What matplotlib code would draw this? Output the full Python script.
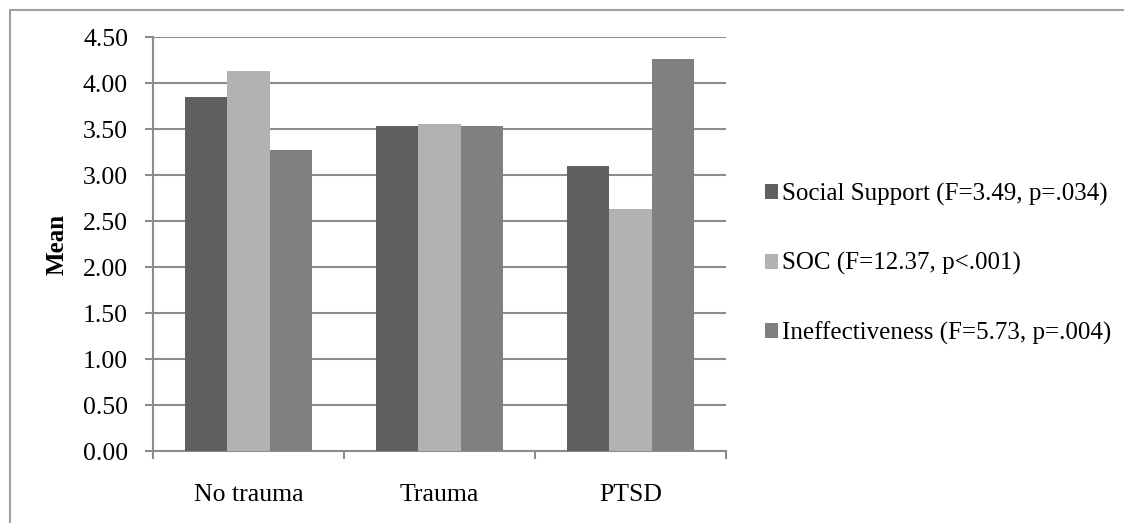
from matplotlib import pyplot as plt
from matplotlib.patches import Rectangle
import numpy as np

plt.rcParams['font.family'] = ['Liberation Serif', 'DejaVu Serif']

groups = ["No trauma", "Trauma", "PTSD"]
series = ["Social Support (F=3.49, p=.034)",
          "SOC (F=12.37, p<.001)",
          "Ineffectiveness (F=5.73, p=.004)"]
social_support = [3.85, 3.53, 3.10]
soc = [4.13, 3.55, 2.63]
ineffectiveness = [3.27, 3.53, 4.26]
colors = ["#606060", "#b2b2b2", "#808080"]

fig = plt.figure(figsize=(11.24, 5.23), dpi=100)
ax = fig.add_axes([153/1124, 1-451/523, (726-153)/1124, (451-37)/523])

# outer frame around the chart
fig.patches.append(Rectangle((10/1124, -0.05), 1.2, 1-10/523+0.05,
                             transform=fig.transFigure, fill=False,
                             edgecolor="#a0a0a0", linewidth=1.5))

x = np.arange(len(groups))
w = 1/1.5/3
for i, (vals, lab) in enumerate(zip([social_support, soc, ineffectiveness], series)):
    ax.bar(x + (i-1)*w, vals, width=w, color=colors[i], label=lab, zorder=3)

ax.set_xlim(-0.5, 2.5)
ax.set_ylim(0, 4.5)
ax.set_yticks(np.arange(0, 4.51, 0.5))
ax.set_yticklabels(["%.2f" % v for v in np.arange(0, 4.51, 0.5)])
ax.yaxis.grid(True, color="#8c8c8c", linewidth=1.5, zorder=0)
ax.set_xticks(x)
ax.set_xticklabels(groups)
ax.set_xticks([-0.5, 0.5, 1.5, 2.5], minor=True)
ax.tick_params(axis='x', which='major', length=0, pad=24, labelsize=18.5)
ax.tick_params(axis='x', which='minor', length=6, color="#8c8c8c", width=1.5)
ax.tick_params(axis='y', length=6, color="#8c8c8c", width=1.5, pad=12, labelsize=18.5)
for s in ["top", "right"]:
    ax.spines[s].set_visible(False)
for s in ["left", "bottom"]:
    ax.spines[s].set_color("#8c8c8c")
    ax.spines[s].set_linewidth(1.5)
ax.set_ylabel("Mean", fontsize=18, fontweight='bold', labelpad=10)

fig.legend(loc='center left', bbox_to_anchor=(765/1124, 1-264/523),
           frameon=False, fontsize=18, handlelength=0.52, handleheight=0.55,
           handletextpad=0.18, labelspacing=1.85, borderpad=0, borderaxespad=0)

fig.savefig("out.png", dpi=100)
